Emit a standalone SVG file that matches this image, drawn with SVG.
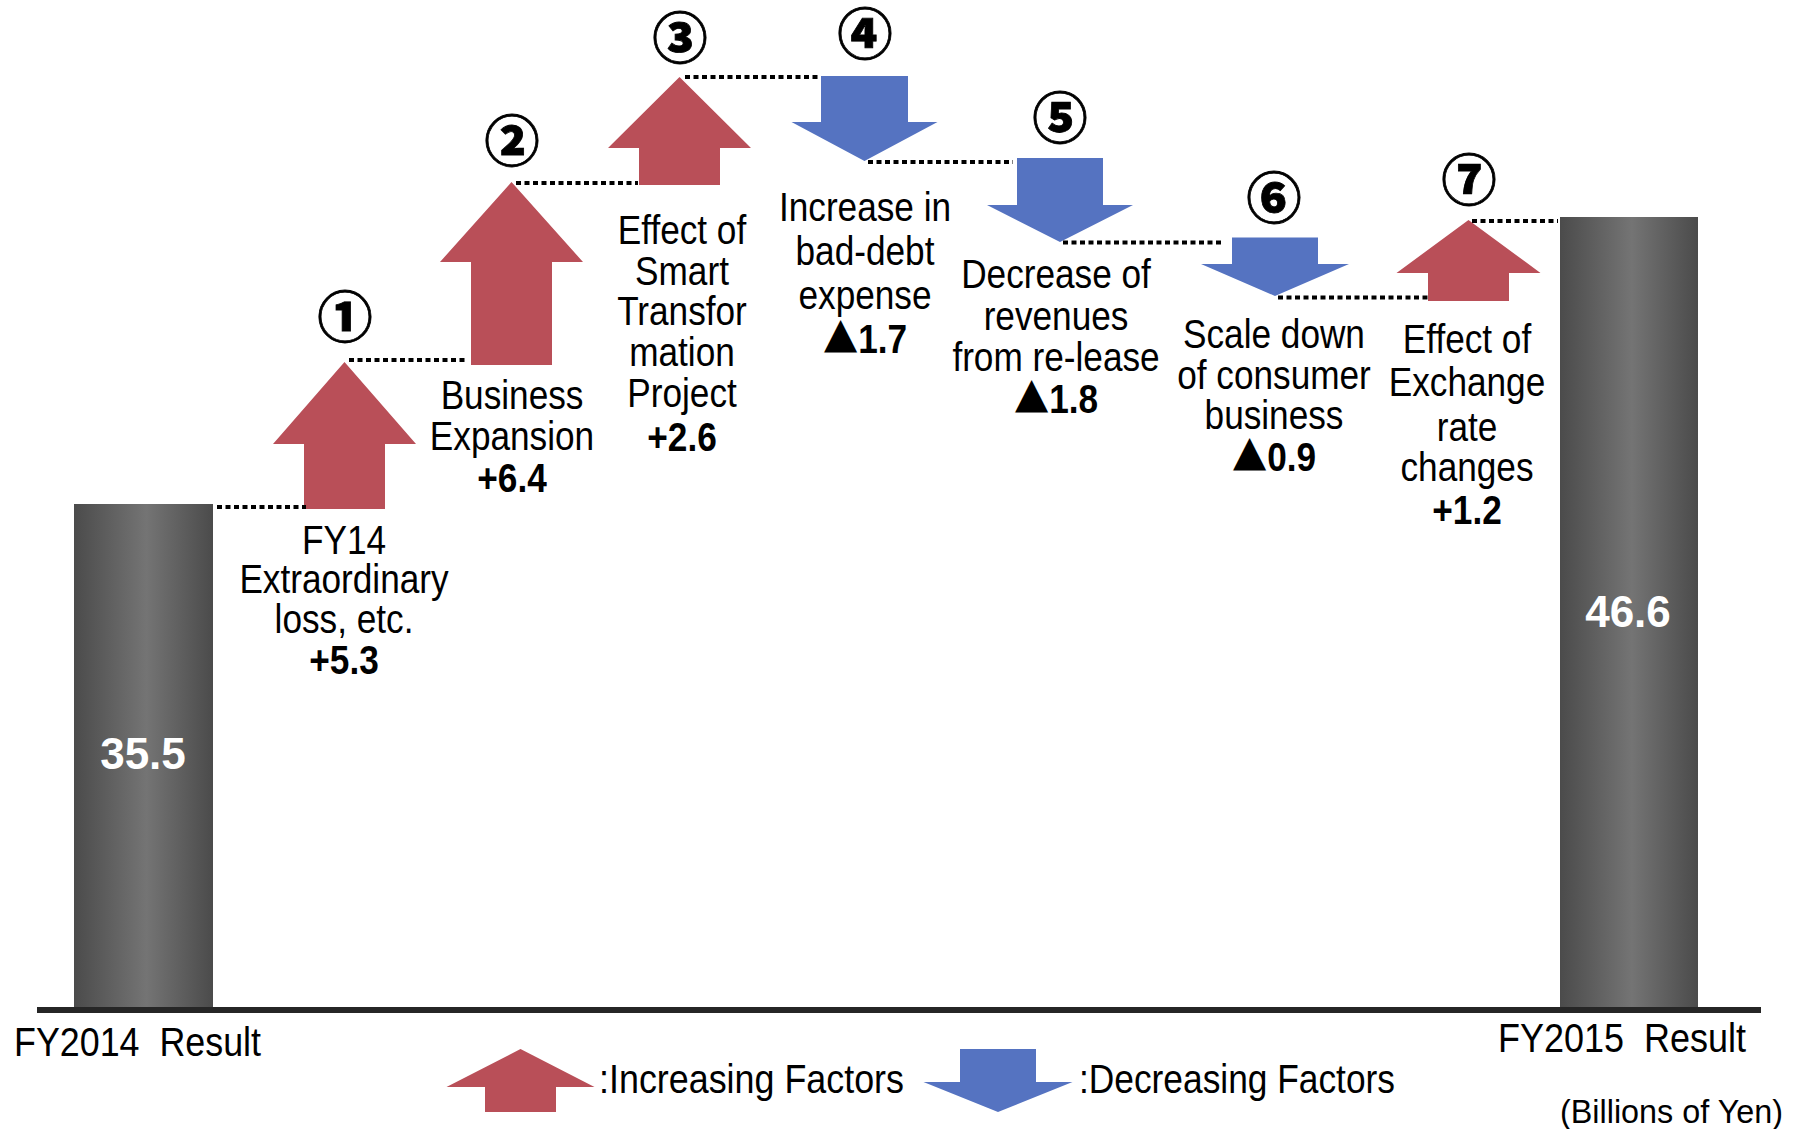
<svg xmlns="http://www.w3.org/2000/svg" width="1795" height="1129" viewBox="0 0 1795 1129">
  <style>
    .lbl { font-family: "Liberation Sans", Arial, sans-serif; font-size: 40px; fill: #000; text-anchor: middle; }
    .val { font-weight: bold; }
    .tri { font-family: "Noto Sans CJK JP", "Noto Sans CJK SC", sans-serif; font-weight: 400; }
    .plain { font-family: "Liberation Sans", Arial, sans-serif; font-size: 40px; fill: #000; }
    .num { font-family: "Noto Sans CJK JP", "Noto Sans CJK SC", sans-serif; font-weight: 900; font-size: 55px; fill: #000; stroke: #000; stroke-width: 0.8; text-anchor: middle; }
    .barval { font-family: "Liberation Sans", Arial, sans-serif; font-weight: bold; font-size: 44px; fill: #fff; text-anchor: middle; }
    .up { fill: #B94F58; }
    .down { fill: #5573C1; }
    .dot { stroke: #000; stroke-width: 4; stroke-dasharray: 5 3.5; fill: none; }
    .bar { fill: url(#barGrad); }
  </style>
  <defs>
    <linearGradient id="barGrad" x1="0" y1="0" x2="1" y2="0">
      <stop offset="0" stop-color="#4b4b4b"/>
      <stop offset="0.52" stop-color="#747474"/>
      <stop offset="1" stop-color="#4b4b4b"/>
    </linearGradient>
  </defs>
  <rect width="1795" height="1129" fill="#fff"/>

  <!-- Start bar -->
  <g id="fy2014">
    <rect class="bar" x="74" y="504" width="139" height="504"/>
    <text class="barval" x="143" y="769">35.5</text>
    <text class="plain" x="14" y="1056" textLength="247" lengthAdjust="spacingAndGlyphs" xml:space="preserve">FY2014  Result</text>
  </g>

  <!-- End bar -->
  <g id="fy2015">
    <rect class="bar" x="1560" y="217" width="138" height="791"/>
    <text class="barval" x="1628" y="627">46.6</text>
    <text class="plain" x="1498" y="1052" textLength="248" lengthAdjust="spacingAndGlyphs" xml:space="preserve">FY2015  Result</text>
  </g>

  <!-- Factor 1 -->
  <g id="factor1">
    <polygon class="up" points="344.5,362 416,444 385,444 385,509 304,509 304,444 273,444"/>
    <text class="num" x="345" y="337">①</text>
    <g transform="translate(344 0) scale(0.88 1)">
      <text class="lbl" x="0" y="554">FY14</text>
      <text class="lbl" x="0" y="593">Extraordinary</text>
      <text class="lbl" x="0" y="633">loss, etc.</text>
      <text class="lbl val" x="0" y="674">+5.3</text>
    </g>
  </g>

  <!-- Factor 2 -->
  <g id="factor2">
    <polygon class="up" points="511.5,182 583,262 552,262 552,365 471,365 471,262 440,262"/>
    <text class="num" x="512" y="161">②</text>
    <g transform="translate(512 0) scale(0.88 1)">
      <text class="lbl" x="0" y="409">Business</text>
      <text class="lbl" x="0" y="450">Expansion</text>
      <text class="lbl val" x="0" y="492">+6.4</text>
    </g>
  </g>

  <!-- Factor 3 -->
  <g id="factor3">
    <polygon class="up" points="679.5,77 751,148 720,148 720,185 639,185 639,148 608,148"/>
    <text class="num" x="680" y="58">③</text>
    <g transform="translate(682 0) scale(0.88 1)">
      <text class="lbl" x="0" y="244">Effect of</text>
      <text class="lbl" x="0" y="285">Smart</text>
      <text class="lbl" x="0" y="325">Transfor</text>
      <text class="lbl" x="0" y="366">mation</text>
      <text class="lbl" x="0" y="407">Project</text>
      <text class="lbl val" x="0" y="451">+2.6</text>
    </g>
  </g>

  <!-- Factor 4 -->
  <g id="factor4">
    <polygon class="down" points="821,76 908,76 908,122 937.5,122 864.5,161 791.5,122 821,122"/>
    <text class="num" x="865" y="54">④</text>
    <g transform="translate(865 0) scale(0.88 1)">
      <text class="lbl" x="0" y="221">Increase in</text>
      <text class="lbl" x="0" y="265">bad-debt</text>
      <text class="lbl" x="0" y="309">expense</text>
      <text class="lbl val" x="0" y="353"><tspan class="tri">▲</tspan>1.7</text>
    </g>
  </g>

  <!-- Factor 5 -->
  <g id="factor5">
    <polygon class="down" points="1017,158 1103,158 1103,205 1133,205 1060,242 987,205 1017,205"/>
    <text class="num" x="1060" y="138">⑤</text>
    <g transform="translate(1056 0) scale(0.88 1)">
      <text class="lbl" x="0" y="288">Decrease of</text>
      <text class="lbl" x="0" y="330">revenues</text>
      <text class="lbl" x="0" y="371">from re-lease</text>
      <text class="lbl val" x="0" y="413"><tspan class="tri">▲</tspan>1.8</text>
    </g>
  </g>

  <!-- Factor 6 -->
  <g id="factor6">
    <polygon class="down" points="1232,237.5 1318,237.5 1318,264 1349,264 1275,296 1201,264 1232,264"/>
    <text class="num" x="1274" y="218">⑥</text>
    <g transform="translate(1274 0) scale(0.88 1)">
      <text class="lbl" x="0" y="348">Scale down</text>
      <text class="lbl" x="0" y="389">of consumer</text>
      <text class="lbl" x="0" y="429">business</text>
      <text class="lbl val" x="0" y="471"><tspan class="tri">▲</tspan>0.9</text>
    </g>
  </g>

  <!-- Factor 7 -->
  <g id="factor7">
    <polygon class="up" points="1468.5,220 1540.5,273 1509,273 1509,301 1428,301 1428,273 1396.5,273"/>
    <text class="num" x="1469" y="200">⑦</text>
    <g transform="translate(1467 0) scale(0.88 1)">
      <text class="lbl" x="0" y="353">Effect of</text>
      <text class="lbl" x="0" y="396">Exchange</text>
      <text class="lbl" x="0" y="441">rate</text>
      <text class="lbl" x="0" y="481">changes</text>
      <text class="lbl val" x="0" y="524">+1.2</text>
    </g>
  </g>

  <!-- Connectors (dotted level lines) -->
  <g id="connectors">
    <line class="dot" x1="217" y1="507" x2="306" y2="507"/>
    <line class="dot" x1="349" y1="360" x2="467" y2="360"/>
    <line class="dot" x1="516" y1="183" x2="638" y2="183"/>
    <line class="dot" x1="685" y1="77" x2="820" y2="77"/>
    <line class="dot" x1="868" y1="162" x2="1013" y2="162"/>
    <line class="dot" x1="1063" y1="242.5" x2="1224" y2="242.5"/>
    <line class="dot" x1="1278" y1="297.5" x2="1428" y2="297.5"/>
    <line class="dot" x1="1472" y1="221" x2="1558" y2="221"/>
  </g>

  <!-- Axis -->
  <g id="axis">
    <line x1="37" y1="1010" x2="1761" y2="1010" stroke="#262626" stroke-width="6"/>
  </g>

  <!-- Legend -->
  <g id="legend-increase">
    <polygon class="up" points="520.5,1049 594.5,1087 556,1087 556,1112 485,1112 485,1087 446.5,1087"/>
    <text class="plain" x="599" y="1093" textLength="305" lengthAdjust="spacingAndGlyphs">:Increasing Factors</text>
  </g>
  <g id="legend-decrease">
    <polygon class="down" points="960,1049 1036,1049 1036,1082 1072.5,1082 998,1112 923.5,1082 960,1082"/>
    <text class="plain" x="1079" y="1093" textLength="316" lengthAdjust="spacingAndGlyphs">:Decreasing Factors</text>
  </g>

  <g id="unit">
    <text class="plain" x="1560" y="1123" style="font-size:34px" textLength="223" lengthAdjust="spacingAndGlyphs">(Billions of Yen)</text>
  </g>
</svg>
